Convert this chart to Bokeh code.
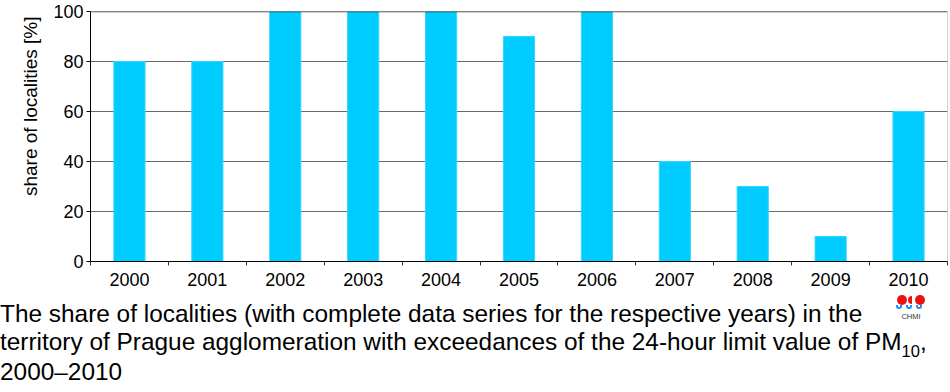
import math
from bokeh.plotting import figure
from bokeh.layouts import column
from bokeh.models import FixedTicker, Span, Title, Div
from bokeh.embed import file_html
from bokeh.resources import INLINE

# ---- data ----
years = ["2000", "2001", "2002", "2003", "2004", "2005", "2006", "2007", "2008", "2009", "2010"]
shares = [80, 80, 100, 100, 100, 90, 100, 40, 30, 10, 60]
y_ticks = [0, 20, 40, 60, 80, 100]
y_label = "share of localities [%]"
caption_line1 = "The share of localities (with complete data series for the respective years) in the"
caption_line2 = "territory of Prague agglomeration with exceedances of the 24-hour limit value of PM"
caption_sub = "10"
caption_line3 = "2000\u20132010"
logo_text = "CHMI"

FONT = "Liberation Sans"
xs = list(range(len(years)))

# ---------------- chart ----------------
p = figure(frame_width=857, frame_height=250,
           min_border_left=90, min_border_right=1, min_border_top=11, min_border_bottom=30,
           x_range=(-0.5, len(years) - 0.5), y_range=(0, 100),
           output_backend="svg", toolbar_location=None)
p.background_fill_color = "white"
p.border_fill_color = "white"
p.outline_line_color = "#d0d0d0"

p.vbar(x=xs, top=shares, width=0.4, fill_color="#00ccff", line_color="#33d6ff", line_width=1)

p.xgrid.visible = False
p.ygrid.ticker = FixedTicker(ticks=y_ticks)
p.ygrid.grid_line_color = "#6a6a6a"
p.ygrid.grid_line_width = 1
p.add_layout(Span(location=100, dimension="width", line_color="#3a3a3a", line_width=1.5))

ya = p.yaxis[0]
ya.ticker = FixedTicker(ticks=y_ticks)
ya.axis_line_color = "black"
ya.major_tick_line_color = "black"
ya.major_tick_out = 4
ya.major_tick_in = 0
ya.minor_tick_line_color = None
ya.major_label_standoff = 3
ya.major_label_text_font = FONT
ya.major_label_text_font_size = "18px"
ya.major_label_text_color = "black"

xa = p.xaxis[0]
xa.ticker = FixedTicker(ticks=xs, minor_ticks=[i - 0.5 for i in range(len(years) + 1)])
xa.major_label_overrides = {i: y for i, y in enumerate(years)}
xa.axis_line_color = "black"
xa.major_tick_line_color = None
xa.major_tick_out = 4
xa.major_tick_in = 0
xa.minor_tick_line_color = "#333333"
xa.minor_tick_out = 4
xa.minor_tick_in = 0
xa.major_label_standoff = 7
xa.major_label_text_font = FONT
xa.major_label_text_font_size = "18px"
xa.major_label_text_color = "black"

p.add_layout(Title(text=y_label, align="right", offset=5, standoff=20,
                   text_font=FONT, text_font_size="19px", text_font_style="normal",
                   text_color="black"), "left")

# ---------------- caption + logo ----------------
arc = ("position:absolute;top:{t}px;left:{l}px;width:6px;height:3.5px;"
       "border:2.5px solid #1a8cff;border-top:none;border-radius:0 0 6px 6px;")
wave_divs = "".join(f'<div style="{arc.format(t=9, l=lx)}"></div>' for lx in (891, 901, 911))

html = f"""
<div style="position:relative;width:948px;height:96px;font-family:'{FONT}';color:#000;">
  <div style="position:absolute;left:-5px;top:3.6px;font-size:24.4px;line-height:28.3px;white-space:nowrap;">
    {caption_line1}<br>{caption_line2}<span style="font-size:16.5px;position:relative;top:7px;">{caption_sub}</span>,<br>{caption_line3}
  </div>
  <div style="position:absolute;left:892px;top:-1px;width:10px;height:10px;border-radius:50%;background:#ee1111;"></div>
  <div style="position:absolute;left:903px;top:0px;width:4px;height:8px;border-radius:4px 0 0 4px;background:#ee1111;"></div>
  <div style="position:absolute;left:910px;top:-1px;width:10px;height:10px;border-radius:50%;background:#ee1111;"></div>
  {wave_divs}
  <div style="position:absolute;left:890px;top:17px;width:32px;text-align:center;font-size:7.5px;line-height:8px;color:#333;">{logo_text}</div>
</div>
"""
cap = Div(text=html, width=948, height=96)

layout = column(p, cap, spacing=0)
open("out.html", "w").write(file_html(layout, INLINE))
